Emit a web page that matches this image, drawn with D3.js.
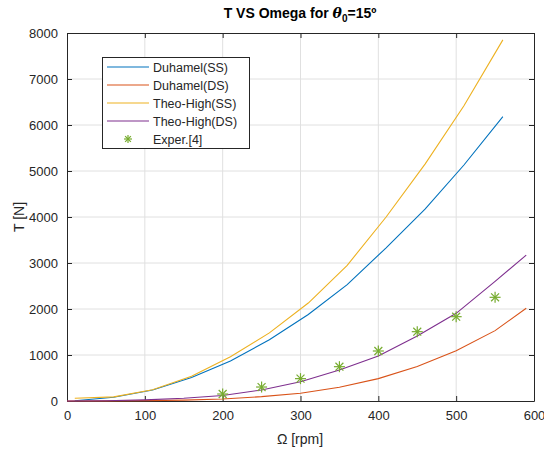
<!DOCTYPE html>
<html>
<head>
<meta charset="utf-8" />
<title>T VS Omega</title>
<script src="https://d3js.org/d3.v7.min.js"></script>
<style>
    html, body { margin: 0; padding: 0; background: #fff; }
    svg { display: block; font-family: 'Liberation Sans', Arial, sans-serif; }
</style>
</head>
<body>
<div id="chart"></div>
<script>
    // values
    var omegaSS = [10, 60, 110, 160, 210, 260, 310, 360, 410, 460, 510, 560];
    var duhamelSS = [5, 80, 240, 510, 870, 1330, 1880, 2530, 3330, 4170, 5130, 6180];
    var theoSS = [60, 90, 245, 540, 960, 1480, 2130, 2950, 4000, 5150, 6420, 7850];

    var omegaDS = [0, 50, 100, 150, 200, 250, 300, 350, 400, 450, 500, 550, 590];
    var duhamelDS = [0, 2, 8, 20, 45, 95, 170, 300, 486, 750, 1094, 1530, 2015];
    var theoDS = [0, 5, 25, 60, 120, 240, 420, 674, 978, 1413, 1906, 2600, 3170];

    var omegaExp = [200, 250, 300, 350, 400, 450, 500, 550];
    var tExp = [152, 304, 486, 746, 1087, 1507, 1833, 2254];

    var xTicks = [0, 100, 200, 300, 400, 500, 600];
    var yTicks = [0, 1000, 2000, 3000, 4000, 5000, 6000, 7000, 8000];

    var series = [
        { name: "Duhamel(SS)", x: omegaSS, y: duhamelSS, color: "#0072BD" },
        { name: "Duhamel(DS)", x: omegaDS, y: duhamelDS, color: "#D95319" },
        { name: "Theo-High(SS)", x: omegaSS, y: theoSS, color: "#EDB120" },
        { name: "Theo-High(DS)", x: omegaDS, y: theoDS, color: "#7E2F8E" }
    ];
    var green = "#77AC30";

    var width = 544, height = 450;
    var pLeft = 67, pRight = 534, pTop = 33, pBottom = 401;
    var axisColor = "#262626";

    var x = d3.scaleLinear().domain([0, 600]).range([pLeft, pRight]);
    var y = d3.scaleLinear().domain([0, 8000]).range([pBottom, pTop]);

    var svg = d3.select("#chart").append("svg")
        .attr("width", width)
        .attr("height", height);

    // grid
    svg.append("g").selectAll("line")
        .data(xTicks.slice(1, -1)).enter().append("line")
        .attr("x1", function(d){ return x(d); }).attr("x2", function(d){ return x(d); })
        .attr("y1", pTop).attr("y2", pBottom)
        .attr("stroke", "#e0e0e0").attr("stroke-width", 1);
    svg.append("g").selectAll("line")
        .data(yTicks.slice(1, -1)).enter().append("line")
        .attr("x1", pLeft).attr("x2", pRight)
        .attr("y1", function(d){ return y(d); }).attr("y2", function(d){ return y(d); })
        .attr("stroke", "#e0e0e0").attr("stroke-width", 1);

    // axes (ticks inward, box on)
    var tick = 5;
    var xAxis = svg.append("g").attr("transform", "translate(0," + pBottom + ")")
        .call(d3.axisBottom(x).tickValues(xTicks).tickSize(-tick).tickPadding(10).tickSizeOuter(0));
    var xTop = svg.append("g").attr("transform", "translate(0," + pTop + ")")
        .call(d3.axisTop(x).tickValues(xTicks).tickSize(-tick).tickFormat("").tickSizeOuter(0));
    var yAxis = svg.append("g").attr("transform", "translate(" + pLeft + ",0)")
        .call(d3.axisLeft(y).tickValues(yTicks).tickFormat(d3.format("d")).tickSize(-tick).tickPadding(9).tickSizeOuter(0));
    var yRight = svg.append("g").attr("transform", "translate(" + pRight + ",0)")
        .call(d3.axisRight(y).tickValues(yTicks).tickSize(-tick).tickFormat("").tickSizeOuter(0));

    [xAxis, xTop, yAxis, yRight].forEach(function(g) {
        g.select(".domain").attr("stroke", axisColor);
        g.selectAll(".tick line").attr("stroke", axisColor);
        g.selectAll(".tick text").attr("fill", axisColor).style("font-size", "13px")
            .style("font-family", "'Liberation Sans', Arial, sans-serif");
    });

    // curves
    var plot = svg.append("g");
    series.forEach(function(s) {
        var pts = s.x.map(function(v, i){ return [v, s.y[i]]; });
        plot.append("path")
            .datum(pts)
            .attr("fill", "none")
            .attr("stroke", s.color)
            .attr("stroke-width", 1.1)
            .attr("d", d3.line().x(function(d){ return x(d[0]); }).y(function(d){ return y(d[1]); }));
    });

    // asterisk marker like matlab '*'
    function star(g, cx, cy, r) {
        var d = r * 0.72;
        var segs = [[-r, 0, r, 0], [0, -r, 0, r], [-d, -d, d, d], [-d, d, d, -d]];
        segs.forEach(function(s) {
            g.append("line")
                .attr("x1", cx + s[0]).attr("y1", cy + s[1])
                .attr("x2", cx + s[2]).attr("y2", cy + s[3])
                .attr("stroke", green).attr("stroke-width", 1.2);
        });
    }
    omegaExp.forEach(function(v, i) {
        star(plot, x(v), y(tExp[i]), 5.5);
    });

    // legend
    var lg = svg.append("g");
    lg.append("rect")
        .attr("x", 102.5).attr("y", 57.5).attr("width", 147).attr("height", 91)
        .attr("fill", "#fff").attr("stroke", axisColor).attr("stroke-width", 1);
    var rowY = [67, 85, 103, 121, 139];
    series.forEach(function(s, i) {
        lg.append("line")
            .attr("x1", 107).attr("x2", 149)
            .attr("y1", rowY[i]).attr("y2", rowY[i])
            .attr("stroke", s.color).attr("stroke-width", 1.1);
        lg.append("text")
            .attr("x", 153).attr("y", rowY[i] + 4.5)
            .attr("fill", axisColor).style("font-size", "12.5px")
            .text(s.name);
    });
    star(lg, 128, rowY[4], 4);
    lg.append("text")
        .attr("x", 153).attr("y", rowY[4] + 4.5)
        .attr("fill", axisColor).style("font-size", "12.5px")
        .text("Exper.[4]");

    // title and labels
    var title = svg.append("text")
        .attr("x", 300).attr("y", 18)
        .attr("text-anchor", "middle")
        .attr("fill", "#000")
        .style("font-size", "14px").style("font-weight", "bold");
    title.append("tspan").text("T VS Omega for ");
    title.append("tspan").style("font-style", "italic").style("font-family", "'DejaVu Serif', serif").text("θ");
    title.append("tspan").attr("dy", 4).style("font-size", "10px").text("0");
    title.append("tspan").attr("dy", -4).text("=15º");

    svg.append("text")
        .attr("x", 300).attr("y", 444)
        .attr("text-anchor", "middle")
        .attr("fill", axisColor)
        .style("font-size", "14px")
        .text("Ω [rpm]");

    svg.append("text")
        .attr("transform", "translate(24,217) rotate(-90)")
        .attr("text-anchor", "middle")
        .attr("fill", axisColor)
        .style("font-size", "14px")
        .text("T [N]");
</script>
</body>
</html>
